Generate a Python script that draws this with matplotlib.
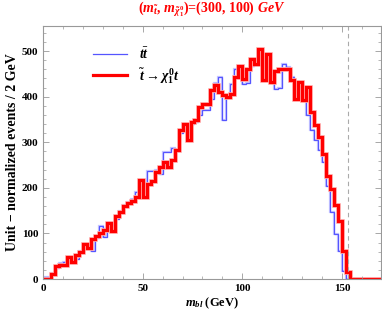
import matplotlib
matplotlib.use("Agg")
import matplotlib.pyplot as plt
import matplotlib.patheffects as pe
import numpy as np
from matplotlib.ticker import MultipleLocator

plt.rcParams['font.family'] = ['Liberation Serif', 'DejaVu Serif']
plt.rcParams['mathtext.fontset'] = 'custom'
plt.rcParams['mathtext.rm'] = 'Liberation Serif:bold'
plt.rcParams['mathtext.it'] = 'Liberation Serif:italic:bold'
plt.rcParams['mathtext.bf'] = 'Liberation Serif:bold'
plt.rcParams['mathtext.fallback'] = 'stix'

# bin lower edges 0,2,...,152 (2 GeV bins); beyond 154 GeV both are zero
signal = [0, 0, 10, 28, 30, 30, 48, 38, 52, 60,
          76, 68, 88, 95, 100, 108, 122, 106, 138, 146,
          160, 166, 172, 180, 218, 180, 208, 215, 234, 245,
          256, 246, 262, 282, 326, 341, 306, 345, 348, 377,
          383, 385, 414, 425, 410, 403, 399, 406, 443, 468,
          439, 461, 483, 472, 504, 436, 494, 433, 457, 461,
          461, 461, 436, 395, 432, 392, 421, 366, 337, 311,
          274, 227, 198, 163, 128, 62, 15]
ttbar = [4, 4, 14, 25, 36, 38, 40, 44, 44, 62,
         69, 69, 62, 91, 116, 92, 110, 122, 132, 150,
         162, 168, 176, 190, 200, 209, 238, 238, 240, 230,
         278, 278, 288, 282, 320, 338, 325, 340, 345, 360,
         370, 370, 395, 430, 443, 350, 398, 428, 461, 440,
         428, 430, 468, 470, 500, 482, 455, 440, 417, 420,
         472, 465, 443, 430, 410, 410, 359, 326, 305, 282,
         256, 205, 146, 99, 62, 18, 0]
bin_width = 2
x_max = 170
endpoint = 152.8

n_bins = x_max // bin_width
edges = np.arange(0, x_max + bin_width, bin_width)
sig = np.zeros(n_bins); sig[:len(signal)] = signal
bkg = np.zeros(n_bins); bkg[:len(ttbar)] = ttbar

fig = plt.figure(figsize=(3.82, 3.18), dpi=100)
ax = fig.add_axes([0.1126, 0.1226, 0.8844, 0.7954])

ax.stairs(bkg, edges, baseline=None, color='#5555ff', lw=0.9,
          path_effects=[pe.Stroke(linewidth=1.6, foreground='#c8c8ff'), pe.Normal()],
          label=r'$t\bar{t}$')
ax.stairs(sig, edges, baseline=None, color='#ff0000', lw=2.3,
          path_effects=[pe.Stroke(linewidth=3.4, foreground='#ffb0b0'), pe.Normal()],
          label=r'$\tilde{t}\rightarrow\chi_1^0 t$')
ax.axvline(endpoint, color='#aaaaaa', lw=0.8, ls=(0, (4, 3)))

ax.set_xlim(0, 169.5)
ax.set_ylim(0, 555)
ax.xaxis.set_major_locator(MultipleLocator(50))
ax.xaxis.set_minor_locator(MultipleLocator(10))
ax.yaxis.set_major_locator(MultipleLocator(100))
ax.yaxis.set_minor_locator(MultipleLocator(20))
ax.tick_params(which='both', direction='in', top=True, right=True, color='#999999',
               labelsize=8)
ax.tick_params(which='major', length=4, width=0.6)
ax.tick_params(which='minor', length=2, width=0.5)
for lab in ax.get_xticklabels() + ax.get_yticklabels():
    lab.set_fontweight('bold')
for s in ax.spines.values():
    s.set_color('#999999')
    s.set_linewidth(0.8)

ax.set_xlabel(r'$m_{bl}$ (GeV)', fontsize=9, fontweight='bold', labelpad=2)
ax.set_ylabel('Unit \u2212 normalized events / 2 GeV', fontsize=10, fontweight='bold', labelpad=2)
fig.text(0.553, 0.972, r'$(m_{\tilde{t}}, \, m_{\tilde{\chi}_1^0})$=(300, 100) $GeV$',
         color='red', fontsize=10, fontweight='bold', ha='center', va='center')

leg = ax.legend(loc='upper left', bbox_to_anchor=(0.11, 0.97), frameon=False,
                fontsize=10, handlelength=2.5, handletextpad=0.8, labelspacing=0.3)
for h in leg.legend_handles:
    h.set_path_effects([])

fig.savefig('out.png', dpi=100)
